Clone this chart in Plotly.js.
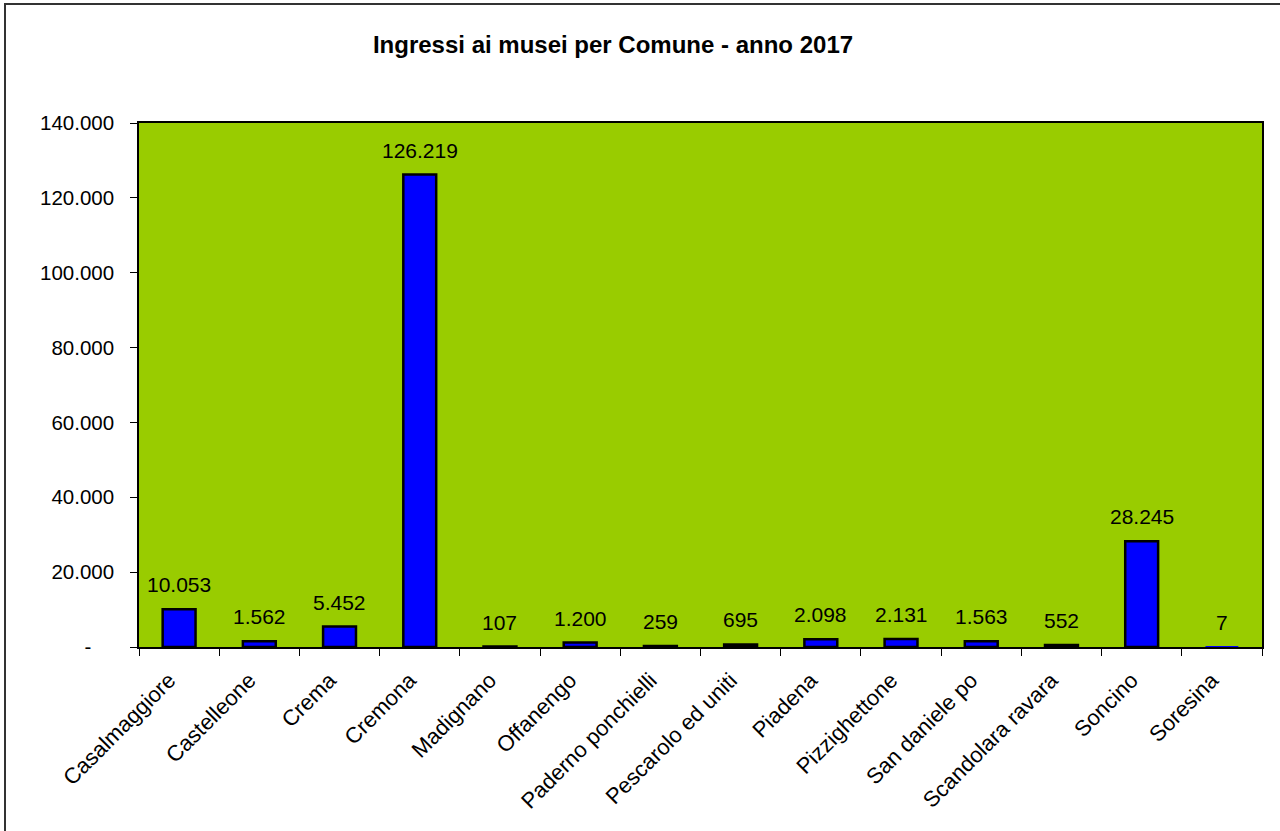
<!DOCTYPE html>
<html>
<head>
<meta charset="utf-8">
<script src="https://cdn.plot.ly/plotly-3.0.1.min.js"></script>
<style>
  html, body { margin: 0; padding: 0; background: #ffffff; }
  #chart { width: 1280px; height: 831px; position: absolute; left: 0; top: 0; }
  #frame { position: absolute; left: 4px; top: 3px; width: 1300px; height: 900px;
           border-left: 2px solid #333333; border-top: 2px solid #333333; pointer-events: none; }
</style>
</head>
<body>
<div id="chart"></div>
<div id="frame"></div>
<script>
const comuni = ["Casalmaggiore", "Castelleone", "Crema", "Cremona", "Madignano", "Offanengo",
  "Paderno ponchielli", "Pescarolo ed uniti", "Piadena", "Pizzighettone", "San daniele po",
  "Scandolara ravara", "Soncino", "Soresina"];
const ingressi = [10053, 1562, 5452, 126219, 107, 1200, 259, 695, 2098, 2131, 1563, 552, 28245, 7];
const yTickVals = [0, 20000, 40000, 60000, 80000, 100000, 120000, 140000];
const yTickText = ["-\u00a0\u00a0\u00a0\u00a0", "20.000", "40.000", "60.000", "80.000", "100.000", "120.000", "140.000"];

function fmt(n) {
  return String(n).replace(/\B(?=(\d{3})+(?!\d))/g, ".");
}

const font = "Liberation Sans, Arial, sans-serif";

const trace = {
  type: "bar",
  x: comuni,
  y: ingressi,
  marker: {
    color: "#0000FF",
    line: { color: "#000000", width: ingressi.map(v => (v < 50 ? 0 : 2.5)) }
  },
  hoverinfo: "x+y"
};

const annotations = comuni.map((c, i) => ({
  x: c, y: ingressi[i], xref: "x", yref: "y",
  text: fmt(ingressi[i]), showarrow: false,
  yanchor: "bottom", xanchor: "center", yshift: 11,
  font: { family: font, size: 21, color: "#000000" }
}));

const layout = {
  width: 1280, height: 831,
  paper_bgcolor: "#ffffff",
  plot_bgcolor: "#99CC00",
  margin: { l: 139, r: 18, t: 123, b: 184, pad: 0 },
  bargap: 0.59,
  showlegend: false,
  title: {
    text: "<b>Ingressi ai musei per Comune - anno 2017</b>",
    font: { family: font, size: 24, color: "#000000" },
    x: 613 / 1280, xanchor: "center", xref: "container",
    y: 1 - 45 / 831, yanchor: "middle", yref: "container"
  },
  xaxis: {
    type: "category",
    tickangle: -45,
    tickson: "boundaries",
    ticks: "outside", ticklen: 7, tickwidth: 1, tickcolor: "#000000",
    showline: true, linecolor: "#000000", linewidth: 1.5, mirror: true,
    showgrid: false, zeroline: false,
    ticklabelstandoff: 10,
    ticklabelshift: -10,
    tickfont: { family: font, size: 22, color: "#000000" },
    automargin: false
  },
  yaxis: {
    range: [0, 140000],
    tickvals: yTickVals, ticktext: yTickText,
    ticks: "outside", ticklen: 7, tickwidth: 1, tickcolor: "#000000",
    showline: true, linecolor: "#000000", linewidth: 1.5, mirror: true,
    showgrid: false, zeroline: false,
    ticklabelstandoff: 12,
    tickfont: { family: font, size: 20.5, color: "#000000" },
    automargin: false
  },
  annotations: annotations
};

Plotly.newPlot("chart", [trace], layout, { displayModeBar: false, responsive: false });
</script>
</body>
</html>
